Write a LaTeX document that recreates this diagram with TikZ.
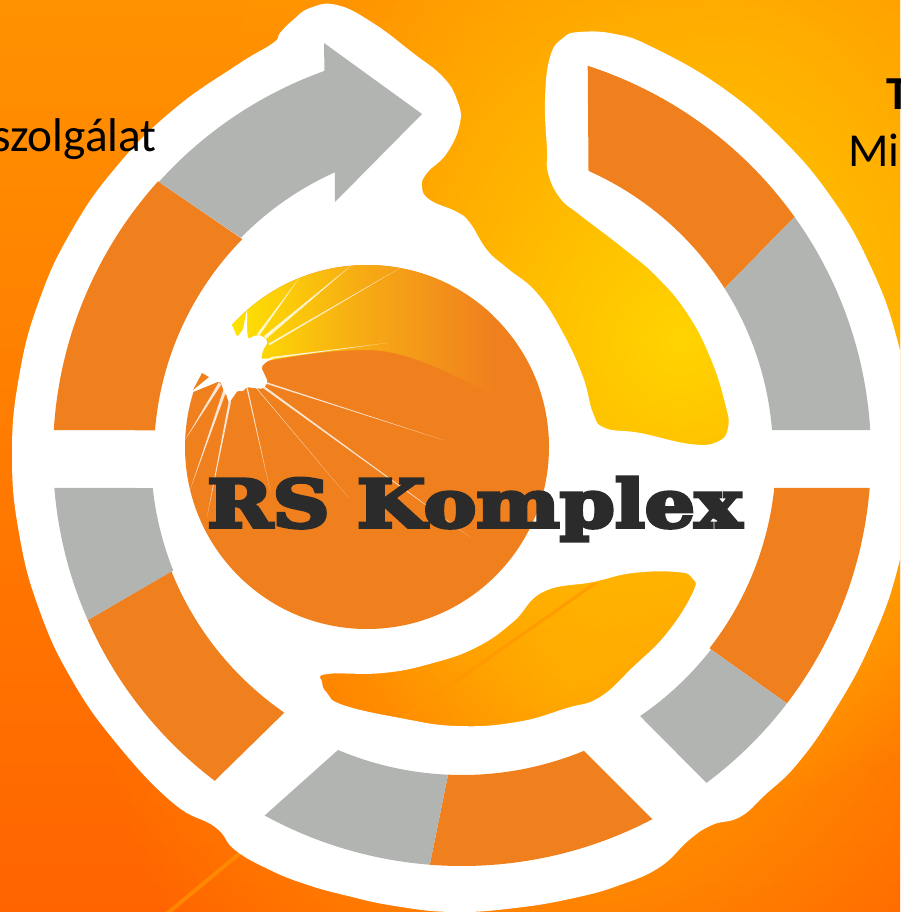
\documentclass[tikz,border=0pt]{standalone}
\usepackage{fontspec}
\usetikzlibrary{fadings}
\setmainfont{Carlito}
\newfontfamily\rsfont[FakeBold=5]{DejaVu Serif Bold}
\definecolor{segorange}{HTML}{F0801E}
\definecolor{seggray}{HTML}{B2B4B2}
\definecolor{inkdark}{HTML}{2B2B2B}
\tikzfading[name=glowfade, inner color=transparent!0, outer color=transparent!100]
\tikzset{
  labeltext/.style={inner sep=0pt,text=black,font=\fontsize{35.5pt}{40pt}\selectfont},
  crack/.style={fill=white,opacity=.8},
}
% colour, outer start/end, inner end/start, outer R, inner R
\newcommand{\ringseg}[7]{\fill[#1] plot[domain=#2:#3,samples=40,variable=\t] ({462+#6*cos(\t)},{455+#6*sin(\t)}) -- plot[domain=#4:#5,samples=40,variable=\t] ({462+#7*cos(\t)},{455+#7*sin(\t)}) -- cycle;}
\begin{document}
\begin{tikzpicture}[x=.75pt,y=-.75pt]
\useasboundingbox (0,0) rectangle (900,912);
\clip (0,0) rectangle (900,912);
% background
\shade[top color={rgb,255:red,255;green,146;blue,0},bottom color={rgb,255:red,255;green,100;blue,0}] (0,0) rectangle (900,912);
\fill[color={rgb,255:red,255;green,160;blue,0},path fading=glowfade] (570,680) circle (470);
\fill[color={rgb,255:red,255;green,165;blue,0},path fading=glowfade,opacity=.6] (760,40) circle (560);
\fill[color={rgb,255:red,255;green,212;blue,0},path fading=glowfade] (680,340) circle (470);
\fill[color={rgb,255:red,255;green,150;blue,0},opacity=.7] (166,912) -- (400,718) -- (593,583) -- (598,583) -- (404,720) -- (172,912) -- cycle;
% white carrier with blob hole
\fill[white,even odd rule]
 plot[smooth cycle,tension=.75] coordinates {(280,33)(293,20)(310,8)(337,5)(373,23)(413,53)(443,77)(457,100)(460,123)(447,153)(427,173)(422,187)(430,200)(457,212)(470,223)(487,250)(507,268)(537,293)(563,333)(583,377)(593,413)(605,428)(640,433)(690,444)(717,442)(728,428)(725,403)(710,357)(687,313)(657,277)(623,248)(580,215)(560,198)(548,173)(547,150)(545,100)(550,57)(563,38)(580,32)(615,34)(652,47)(720,86)(780,137)(831,197)(870,265)(897,339)(910,416)(910,494)(897,571)(870,645)(835,710)(798,763)(765,795)(740,817)(712,825)(689,840)(660,867)(620,885)(574,898)(515,908)(453,912)(395,906)(344,895)(305,884)(270,870)(235,850)(215,827)(173,803)(117,744)(72,680)(39,609)(19,533)(12,455)(19,377)(39,301)(72,230)(117,166)(173,110)(237,65)(273,43)}
 plot[smooth cycle,tension=.75] coordinates {(322,682)(327,674)(383,673)(433,663)(477,647)(513,622)(543,592)(593,582)(633,573)(677,572)(692,578)(693,592)(667,633)(633,667)(600,697)(567,708)(517,722)(457,726)(400,718)(343,705)(327,693)};
% ring segments
\ringseg{segorange}{-72.1}{-35.6}{-32.4}{-66}{409}{311}
\ringseg{seggray}{-35.6}{-3.5}{-4.6}{-32.4}{409}{311}
\ringseg{segorange}{4.6}{37.4}{38}{6}{409}{314}
\ringseg{seggray}{37.4}{53.3}{55.7}{38}{409}{316}
\ringseg{segorange}{62.4}{94.5}{92.5}{67.6}{411}{320}
\ringseg{seggray}{94.5}{118.7}{112.8}{92.5}{411}{320}
\ringseg{segorange}{127.2}{156.2}{158.2}{124.6}{409}{313}
\ringseg{seggray}{156.2}{175.4}{173.9}{158.2}{409}{311}
\ringseg{segorange}{183.5}{222}{224.5}{184.6}{409}{308}
\fill[seggray] plot[domain=222:250.3,samples=30,variable=\t] ({462+408*cos(\t)},{455+408*sin(\t)}) -- (324,43) -- (422,114) -- (335,202) -- plot[domain=245.8:224.5,samples=30,variable=\t] ({462+310*cos(\t)},{455+310*sin(\t)}) -- cycle;
% sphere
\fill[segorange] (367,447) circle (182);
\begin{scope}
\clip (367,447) circle (182);
\shade[left color={rgb,255:red,255;green,230;blue,0},right color=segorange,middle color={rgb,255:red,247;green,172;blue,20}]
 (225,250) -- (492,250) -- (492,394) -- (477,387) .. controls (430,362) and (395,350) .. (367,350) .. controls (330,350) and (300,355) .. (261,362) -- (225,340) -- cycle;
\end{scope}
% burst
\fill[white,rounded corners=1.5pt] (222,315) -- (232,325) -- (237,337) -- (243,330) -- (247,309) -- (247,330) -- (248,339) -- (256,335) -- (263,336) -- (268,342) -- (263,350) -- (261,359) -- (274,358) -- (266,362) -- (261,367) -- (268,382) -- (263,389) -- (246,387) -- (243,392) -- (238,390) -- (229,403) -- (224,388) -- (226,396) -- (220,381) -- (193,392) -- (188,392) -- (192,365) -- (205,340) -- cycle;
\fill[segorange] (202,373) -- (209,377) -- (193,390) -- cycle;
% cracks
\fill[crack] (257,334) -- (300,277) -- (259,336) -- cycle;
\fill[crack] (264,336) -- (353,264) -- (266,339) -- cycle;
\fill[crack] (268,344) -- (400,268) -- (270,345) -- cycle;
\fill[crack] (270,359) -- (387,343) -- (271,357) -- cycle;
\fill[crack] (266,382) -- (443,440) -- (267,384) -- cycle;
\fill[crack] (263,388) -- (470,537) -- (264,386) -- cycle;
\fill[crack] (255,386) -- (348,497) -- (256,388) -- cycle;
\fill[crack] (246,386) -- (270,490) -- (248,389) -- cycle;
\fill[crack] (229,400) -- (207,517) -- (231,402) -- cycle;
\fill[crack] (224,388) -- (190,490) -- (226,392) -- cycle;
\fill[crack] (219,382) -- (185,440) -- (221,385) -- cycle;
% texts
\node[inner sep=0pt,text=inkdark] (title) at (474.5,509) {\resizebox*{401pt}{48pt}{\rsfont RS Komplex}};
\fill[inkdark] (718,512) circle (8);
\node[labeltext,anchor=base east] (szolg) at (157,152) {szolgálat};
\node[labeltext,anchor=base west,font=\fontsize{35.5pt}{40pt}\selectfont\bfseries] (tee) at (886,110) {T};
\node[labeltext,anchor=base west] (mi) at (848,167) {Mi};
\end{tikzpicture}
\end{document}
